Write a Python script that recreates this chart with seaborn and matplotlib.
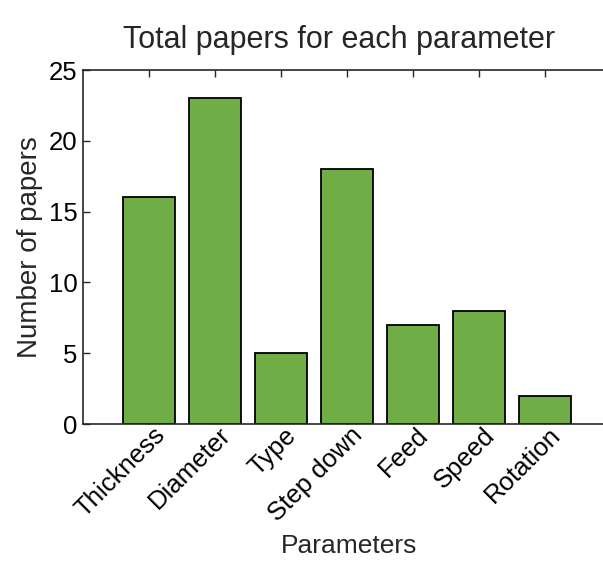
import matplotlib
matplotlib.use("Agg")
import matplotlib.pyplot as plt
import matplotlib.transforms as mtransforms
import seaborn as sns
import pandas as pd

parameters = ["Thickness", "Diameter", "Type", "Step down", "Feed", "Speed", "Rotation"]
papers = [16, 23, 5, 18, 7, 8, 2]

df = pd.DataFrame({"Parameters": parameters, "Papers": papers})

sns.set_style("ticks")
plt.rcParams["font.family"] = ["Liberation Sans", "DejaVu Sans"]

fig = plt.figure(figsize=(6.03, 5.61), dpi=100)
ax = fig.add_axes([0.1376, 0.2442, 0.8756, 0.631])

sns.barplot(data=df, x="Parameters", y="Papers", color="#70AD47", saturation=1,
            width=0.8, edgecolor="black", linewidth=1.3, ax=ax)

ax.set_xlim(-1, 7)
ax.set_ylim(0, 25)
ax.set_yticks([0, 5, 10, 15, 20, 25])
ax.tick_params(direction="in", length=5, width=1, colors="#262626", labelsize=18.5,
               top=True, right=True, labelcolor="black", pad=4)
for s in ax.spines.values():
    s.set_visible(True)
    s.set_color("#262626")
    s.set_linewidth(1.2)

# shift rotated labels a bit to the right, like the original
offset = mtransforms.ScaledTranslation(12 / 100, -2 / 100, fig.dpi_scale_trans)
for lbl in ax.get_xticklabels():
    lbl.set_rotation(45)
    lbl.set_ha("right")
    lbl.set_va("center")
    lbl.set_rotation_mode("anchor")
    lbl.set_transform(lbl.get_transform() + offset)

ax.set_xlabel("Parameters", fontsize=19)
ax.xaxis.set_label_coords(0.504, -0.31)
ax.set_ylabel("Number of papers", fontsize=20, labelpad=4)
ax.set_title("Total papers for each parameter", fontsize=22, pad=16, x=0.485)

fig.savefig("out.png", dpi=100)
